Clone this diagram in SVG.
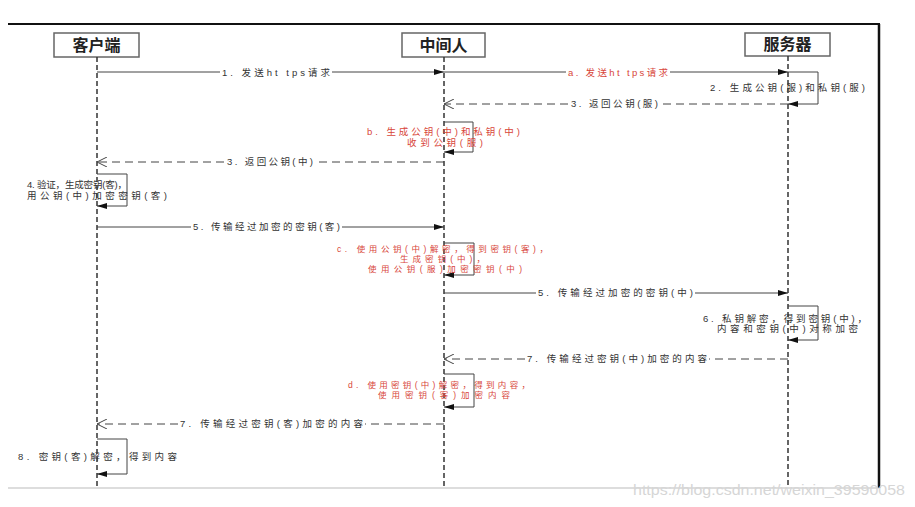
<svg xmlns="http://www.w3.org/2000/svg" width="915" height="507" viewBox="0 0 915 507">
<style>
.hdr{fill:#fff;stroke:#666;stroke-width:1.5}
.ht{font-family:"Liberation Sans","Noto Sans CJK SC",sans-serif;font-size:16px;font-weight:bold;fill:#222;text-anchor:middle}
.life{stroke:#333;stroke-width:1.5;stroke-dasharray:5,3;fill:none}
.msg{stroke:#444;stroke-width:1;fill:none}
.ret{stroke:#444;stroke-width:1;stroke-dasharray:8,5;fill:none}
.lb{font-family:"Liberation Sans","Noto Sans CJK SC",sans-serif;font-size:9.5px;fill:#333}
.rd{font-family:"Liberation Sans","Noto Sans CJK SC",sans-serif;font-size:9.5px;fill:#d8463a}
.sm{font-size:8.5px}
</style>
<defs>
<marker id="fa" viewBox="0 0 10 6" refX="10" refY="3" markerWidth="10" markerHeight="6" markerUnits="userSpaceOnUse" orient="auto"><path d="M0,0 L10,3 L0,6 Z" fill="#111"/></marker>
<marker id="oa" viewBox="0 0 10 10" refX="10" refY="5" markerWidth="10" markerHeight="10" markerUnits="userSpaceOnUse" orient="auto"><path d="M0,0 L10,5 L0,10" fill="none" stroke="#444" stroke-width="1"/></marker>
</defs>
<rect width="915" height="507" fill="#fff"/>
<line x1="8" y1="24" x2="880" y2="24" stroke="#111" stroke-width="2"/>
<line x1="879" y1="24" x2="879" y2="488" stroke="#111" stroke-width="2.5"/>
<line x1="8" y1="488" x2="879" y2="488" stroke="#bbb" stroke-width="1"/>

<g id="client">
<rect class="hdr" x="54" y="33" width="85" height="24"/>
<text class="ht" x="96.5" y="51">客户端</text>
<line class="life" x1="97" y1="57" x2="97" y2="487"/>
</g>
<g id="middle">
<rect class="hdr" x="402" y="33" width="83" height="24"/>
<text class="ht" x="443.5" y="51">中间人</text>
<line class="life" x1="444" y1="57" x2="444" y2="487"/>
</g>
<g id="server">
<rect class="hdr" x="745" y="33" width="85" height="23"/>
<text class="ht" x="787.5" y="50">服务器</text>
<line class="life" x1="788" y1="56" x2="788" y2="487"/>
</g>

<g id="connectors">
<!-- 1 -->
<line class="msg" x1="97" y1="72" x2="220" y2="72"/>
<line class="msg" x1="332" y1="72" x2="444" y2="72" marker-end="url(#fa)"/>
<text class="lb" x="222" y="75.5" textLength="108" lengthAdjust="spacing">1. 发送ht tps请求</text>
<!-- a -->
<line class="msg" x1="444" y1="72" x2="566" y2="72"/>
<line class="msg" x1="670" y1="72" x2="788" y2="72" marker-end="url(#fa)"/>
<text class="rd" x="568" y="75.5" textLength="100" lengthAdjust="spacing">a. 发送ht tps请求</text>
<!-- 2 -->
<path class="msg" d="M788,72 H818 V104 H788" marker-end="url(#fa)"/>
<text class="lb" x="710" y="91" textLength="155" lengthAdjust="spacing">2. 生成公钥(服)和私钥(服)</text>
<!-- 3 服 -->
<line class="ret" x1="788" y1="104" x2="660" y2="104"/>
<line class="ret" x1="568" y1="104" x2="444" y2="104" marker-end="url(#oa)"/>
<text class="lb" x="571" y="107" textLength="87" lengthAdjust="spacing">3. 返回公钥(服)</text>
<!-- b -->
<path class="msg" d="M444,122 H473 V152 H444" marker-end="url(#fa)"/>
<text class="rd" x="367" y="135" textLength="153" lengthAdjust="spacing">b. 生成公钥(中)和私钥(中)</text>
<text class="rd" x="407" y="146" textLength="76" lengthAdjust="spacing">收到公钥(服)</text>
<!-- 3 中 -->
<line class="ret" x1="444" y1="162" x2="316" y2="162"/>
<line class="ret" x1="224" y1="162" x2="97" y2="162" marker-end="url(#oa)"/>
<text class="lb" x="227" y="165" textLength="86" lengthAdjust="spacing">3. 返回公钥(中)</text>
<!-- 4 -->
<path class="msg" d="M97,174 H127 V206 H97" marker-end="url(#fa)"/>
<text class="lb" x="27" y="188" textLength="100" lengthAdjust="spacing">4. 验证，生成密钥(客)，</text>
<text class="lb" x="27" y="199" textLength="140" lengthAdjust="spacing">用公钥(中)加密密钥(客)</text>
<!-- 5 客 -->
<line class="msg" x1="97" y1="227" x2="191" y2="227"/>
<line class="msg" x1="342" y1="227" x2="444" y2="227" marker-end="url(#fa)"/>
<text class="lb" x="193" y="230" textLength="147" lengthAdjust="spacing">5. 传输经过加密的密钥(客)</text>
<!-- c -->
<path class="msg" d="M444,243 H474 V275 H444" marker-end="url(#fa)"/>
<text class="rd sm" x="337" y="252" textLength="211" lengthAdjust="spacing">c. 使用公钥(中)解密，得到密钥(客)，</text>
<text class="rd sm" x="400" y="262" textLength="85" lengthAdjust="spacing">生成密钥(中)，</text>
<text class="rd sm" x="368" y="272" textLength="154" lengthAdjust="spacing">使用公钥(服)加密密钥(中)</text>
<!-- 5 中 -->
<line class="msg" x1="444" y1="293" x2="536" y2="293"/>
<line class="msg" x1="695" y1="293" x2="788" y2="293" marker-end="url(#fa)"/>
<text class="lb" x="538" y="296" textLength="155" lengthAdjust="spacing">5. 传输经过加密的密钥(中)</text>
<!-- 6 -->
<path class="msg" d="M788,306 H818 V340 H788" marker-end="url(#fa)"/>
<text class="lb" x="703" y="322" textLength="164" lengthAdjust="spacing">6. 私钥解密，得到密钥(中)，</text>
<text class="lb" x="717" y="332" textLength="141" lengthAdjust="spacing">内容和密钥(中)对称加密</text>
<!-- 7 中 -->
<line class="ret" x1="788" y1="359" x2="709" y2="359"/>
<line class="ret" x1="525" y1="359" x2="444" y2="359" marker-end="url(#oa)"/>
<text class="lb" x="527" y="362" textLength="180" lengthAdjust="spacing">7. 传输经过密钥(中)加密的内容</text>
<!-- d -->
<path class="msg" d="M444,374 H474 V407 H444" marker-end="url(#fa)"/>
<text class="rd sm" x="348" y="388" textLength="182" lengthAdjust="spacing">d. 使用密钥(中)解密，得到内容，</text>
<text class="rd sm" x="378" y="398" textLength="132" lengthAdjust="spacing">使用密钥(客)加密内容</text>
<!-- 7 客 -->
<line class="ret" x1="444" y1="424" x2="365" y2="424"/>
<line class="ret" x1="178" y1="424" x2="97" y2="424" marker-end="url(#oa)"/>
<text class="lb" x="180" y="427" textLength="183" lengthAdjust="spacing">7. 传输经过密钥(客)加密的内容</text>
<!-- 8 -->
<path class="msg" d="M97,439 H127 V474 H97" marker-end="url(#fa)"/>
<text class="lb" x="18" y="460" textLength="159" lengthAdjust="spacing">8. 密钥(客)解密，得到内容</text>
</g>
<text x="633" y="495" font-family="Liberation Sans, sans-serif" font-size="14" fill="#d6d6d6" textLength="272" lengthAdjust="spacingAndGlyphs">https://blog.csdn.net/weixin_39590058</text>
</svg>
